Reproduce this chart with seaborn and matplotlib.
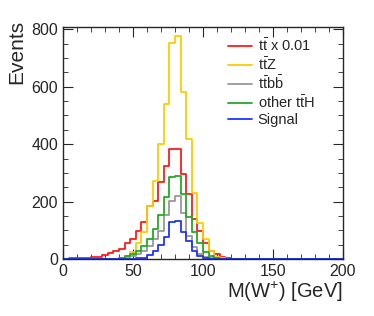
import seaborn as sns
import matplotlib.pyplot as plt
import numpy as np
import pandas as pd
from matplotlib.ticker import MultipleLocator

# histogram contents, 50 bins of 4 GeV from 0 to 200
edges = np.arange(0, 204, 4)
centers = edges[:-1] + 2

tt = [1, 2, 3, 4, 5, 6, 8, 14, 21, 29, 35, 55, 70, 97, 128, 186, 203, 267, 323, 384,
      384, 297, 227, 140, 99, 55, 29, 17, 8, 3, 1, 0, 0, 0, 0, 0, 0, 0, 0, 0,
      0, 0, 0, 0, 0, 0, 0, 0, 0, 0]
ttz = [0, 0, 0, 0, 0, 0, 0, 0, 0, 0, 3, 10, 25, 55, 95, 186, 270, 400, 541, 752,
       776, 581, 419, 229, 124, 70, 29, 8, 3, 0, 0, 0, 0, 0, 0, 0, 0, 0, 0, 0,
       0, 0, 0, 0, 0, 0, 0, 0, 0, 0]
ttbb = [0, 0, 0, 0, 0, 0, 0, 0, 0, 0, 1, 4, 9, 17, 29, 47, 70, 99, 153, 203,
        221, 159, 81, 41, 17, 8, 3, 0, 0, 0, 0, 0, 0, 0, 0, 0, 0, 0, 0, 0,
        0, 0, 0, 0, 0, 0, 0, 0, 0, 0]
ttH = [0, 0, 0, 0, 0, 0, 0, 0, 0, 0, 3, 9, 17, 29, 47, 70, 105, 153, 215, 285,
       290, 227, 145, 93, 55, 23, 12, 4, 1, 0, 0, 0, 0, 0, 0, 0, 0, 0, 0, 0,
       0, 0, 0, 0, 0, 0, 0, 0, 0, 0]
signal = [0, 0, 0, 0, 0, 0, 0, 0, 0, 0, 0, 0, 0, 2, 5, 14, 29, 50, 78, 128,
          134, 93, 62, 29, 12, 4, 1, 0, 0, 0, 0, 0, 0, 0, 0, 0, 0, 0, 0, 0,
          0, 0, 0, 0, 0, 0, 0, 0, 0, 0]

labels = [r"$\mathrm{t\bar{t}}$ x 0.01", r"$\mathrm{t\bar{t}Z}$",
          r"$\mathrm{t\bar{t}b\bar{b}}$", r"other $\mathrm{t\bar{t}H}$", "Signal"]
colors = ["#ff1a1a", "#ffcc00", "#999999", "#22aa22", "#2233ff"]

sns.set_style("ticks")
plt.rcParams["font.family"] = ["Liberation Sans", "DejaVu Sans"]
plt.rcParams["mathtext.fontset"] = "custom"
plt.rcParams["mathtext.rm"] = "Liberation Sans"
plt.rcParams["mathtext.it"] = "Liberation Sans:italic"

fig = plt.figure(figsize=(3.74, 3.16), dpi=100)
ax = fig.add_axes([63/374, 57/316, 280/374, 232/316])

for vals, lab, col in zip([tt, ttz, ttbb, ttH, signal], labels, colors):
    df = pd.DataFrame({"mass": centers, "w": vals})
    sns.histplot(data=df, x="mass", weights="w", binwidth=4, binrange=(0, 200),
                 element="step", fill=False, color=col, linewidth=1.3, ax=ax, label=lab)

ax.set_xlim(0, 200)
ax.set_ylim(0, 808)
ax.xaxis.set_major_locator(MultipleLocator(50))
ax.xaxis.set_minor_locator(MultipleLocator(10))
ax.yaxis.set_major_locator(MultipleLocator(200))
ax.yaxis.set_minor_locator(MultipleLocator(50))
ax.tick_params(which="both", direction="in", top=True, right=True, labelsize=11.5)
ax.tick_params(which="major", length=7)
ax.tick_params(which="minor", length=3.5)
for s in ax.spines.values():
    s.set_linewidth(1.0)

ax.set_xlabel(r"M(W$^{+}$) [GeV]", fontsize=14.5, loc="right", labelpad=1)
ax.set_ylabel("Events", fontsize=15, loc="top")
ax.yaxis.set_label_coords(-0.13, 1.03)

leg = ax.legend(loc="upper left", bbox_to_anchor=(0.57, 0.98), frameon=False,
                fontsize=10.5, handlelength=1.6, handletextpad=0.4,
                labelspacing=0.12, borderaxespad=0)

fig.savefig("out.png", dpi=100)
plt.close(fig)
